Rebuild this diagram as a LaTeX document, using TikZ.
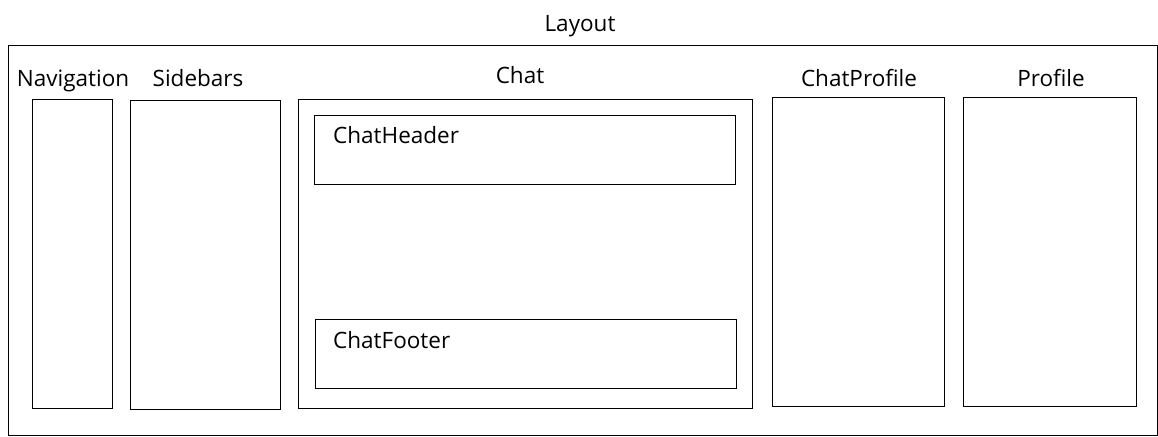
\documentclass[tikz,border=0pt]{standalone}
\usepackage{fontspec}
\setmainfont{Open Sans}
\begin{document}
\begin{tikzpicture}[x=1pt,y=-1pt,
  box/.style={draw=black,line width=1pt},
  lbl/.style={font=\fontsize{22.5}{26}\selectfont,inner sep=0pt,anchor=base}]
\useasboundingbox (0,0) rectangle (1158,436);
\draw[box] (8,46) rectangle (1157,435);
\node[lbl] (layout) at (580,32) {Layout};
% Navigation
\draw[box] (32,99) rectangle (112,408);
\node[lbl] (nav) at (73,86) {Navigation};
% Sidebars
\draw[box] (130,100) rectangle (280,409);
\node[lbl] (side) at (198,86) {Sidebars};
% Chat
\draw[box] (298,99) rectangle (752,408);
\node[lbl] (chat) at (520,83) {Chat};
\draw[box] (314,115) rectangle (735,184);
\node[lbl,anchor=base west] (chh) at (333,143) {ChatHeader};
\draw[box] (315,319) rectangle (736,388);
\node[lbl,anchor=base west] (chf) at (333,348) {ChatFooter};
% ChatProfile
\draw[box] (772,97) rectangle (944,406);
\node[lbl] (chp) at (859,86) {ChatProfile};
% Profile
\draw[box] (963,97) rectangle (1136,406);
\node[lbl] (prof) at (1051,86) {Profile};
\end{tikzpicture}
\end{document}
